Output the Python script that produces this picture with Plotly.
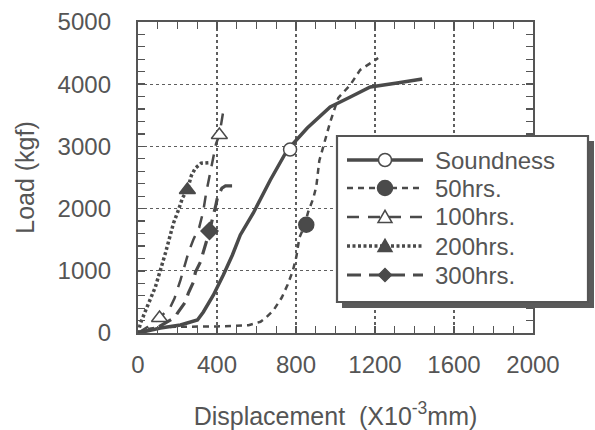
import plotly.graph_objects as go

# ---------------- data ----------------
sound_x = [0, 114, 215, 301, 331, 382, 432, 478, 518, 584, 670, 756, 857, 973, 1075, 1176, 1312, 1439]
sound_y = [0, 80, 129, 209, 338, 611, 933, 1254, 1576, 1930, 2460, 2943, 3296, 3634, 3795, 3956, 4020, 4084]
sound_mx = [770]
sound_my = [2950]

h50_x = [0, 40, 100, 200, 400, 560, 620, 645, 685, 728, 758, 784, 802, 817, 840, 862, 888, 903, 918, 943, 973, 1014, 1075, 1125, 1216]
h50_y = [0, 60, 90, 100, 105, 125, 180, 240, 360, 570, 780, 1000, 1230, 1530, 1700, 1950, 2170, 2360, 2770, 3070, 3390, 3780, 3990, 4230, 4420]
h50_mx = [852]
h50_my = [1740]

h100_x = [0, 50, 109, 164, 185, 215, 255, 280, 310, 330, 345, 367, 395, 412, 437]
h100_y = [0, 100, 241, 418, 560, 850, 1290, 1500, 1700, 1950, 2250, 2590, 3040, 3184, 3666]
h100_mx = [109, 412]
h100_my = [241, 3184]

h200_x = [0, 13, 50, 88, 139, 180, 205, 225, 250, 270, 290, 320, 367]
h200_y = [0, 161, 450, 740, 1286, 1769, 1978, 2171, 2300, 2530, 2650, 2730, 2740]
h200_mx = [250]
h200_my = [2300]

h300_x = [0, 100, 190, 200, 240, 255, 281, 291, 316, 326, 362, 392, 403, 425, 443, 478]
h300_y = [0, 90, 257, 322, 498, 643, 820, 981, 1142, 1254, 1640, 2026, 2187, 2330, 2364, 2364]
h300_mx = [362]
h300_my = [1640]

series_names = ["Soundness", "50hrs.", "100hrs.", "200hrs.", "300hrs."]
x_ticks = [0, 400, 800, 1200, 1600, 2000]
y_ticks = [0, 1000, 2000, 3000, 4000, 5000]
x_minor_step = 100
y_minor_step = 200

# ---------------- styles ----------------
LC = "#4a4a4a"
TC = "#555555"
FONT = "Liberation Sans, Arial, Helvetica, sans-serif"

styles = [
    dict(dash="solid", width=3.5, symbol="circle", size=13, fill="white"),
    dict(dash="6px,5px", width=2.5, symbol="circle", size=15, fill=LC),
    dict(dash="12px,9px", width=2.5, symbol="triangle-up", size=14, fill="white"),
    dict(dash="3px,2.5px", width=3.5, symbol="triangle-up", size=14, fill=LC),
    dict(dash="14px,8px", width=3.2, symbol="diamond", size=13, fill=LC),
]
lines = [(sound_x, sound_y), (h50_x, h50_y), (h100_x, h100_y), (h200_x, h200_y), (h300_x, h300_y)]
marks = [(sound_mx, sound_my), (h50_mx, h50_my), (h100_mx, h100_my), (h200_mx, h200_my), (h300_mx, h300_my)]

fig = go.Figure()
for name, (lx, ly), (mx, my), st in zip(series_names, lines, marks, styles):
    fig.add_trace(go.Scatter(x=lx, y=ly, mode="lines", name=name, showlegend=False,
                             line=dict(color=LC, width=st["width"], dash=st["dash"])))
    fig.add_trace(go.Scatter(x=mx, y=my, mode="markers", name=name, showlegend=False,
                             marker=dict(symbol=st["symbol"], size=st["size"], color=st["fill"],
                                         line=dict(color=LC, width=1.5))))

# ---------------- layout ----------------
L, R, T, B = 138, 533, 22, 333   # plot area in window pixels
W, H = R - L, B - T
fx = lambda px: (px - L) / W
fy = lambda py: (B - py) / H

axis_common = dict(
    showline=True, linecolor=TC, linewidth=2.2, mirror="ticks", automargin=False,
    ticks="inside", ticklen=7, tickwidth=1.5, tickcolor=TC, tickmode="linear",
    showgrid=True, gridcolor="#5f5f5f", gridwidth=1.3, griddash="dot",
    zeroline=False, tickfont=dict(family=FONT, size=24, color=TC),
)
fig.update_xaxes(range=[x_ticks[0], x_ticks[-1]], tick0=x_ticks[0], dtick=x_ticks[1] - x_ticks[0],
                 minor=dict(dtick=x_minor_step, tick0=0, ticks="inside", ticklen=7, tickwidth=1.2, tickcolor=TC, showgrid=False),
                 title=dict(text="Displacement\u00a0 (X10<sup>-3</sup>mm)", font=dict(family=FONT, size=25, color=TC), standoff=33),
                 ticklabelstandoff=9, **axis_common)
fig.update_yaxes(range=[y_ticks[0], y_ticks[-1]], tick0=y_ticks[0], dtick=y_ticks[1] - y_ticks[0],
                 minor=dict(dtick=y_minor_step, tick0=0, ticks="inside", ticklen=7, tickwidth=1.2, tickcolor=TC, showgrid=False),
                 title=dict(text="Load (kgf)", font=dict(family=FONT, size=25, color=TC), standoff=16),
                 ticklabelstandoff=20, **axis_common)

# ---------------- hand-drawn legend box ----------------
shapes = []
annotations = []
shapes.append(dict(type="rect", xref="paper", yref="paper", x0=fx(342), x1=fx(594), y0=fy(308), y1=fy(141),
                   fillcolor="#5a5a5a", line=dict(width=0), layer="above"))
shapes.append(dict(type="rect", xref="paper", yref="paper", x0=fx(337), x1=fx(588), y0=fy(302), y1=fy(136),
                   fillcolor="white", line=dict(color=TC, width=2.2), layer="above"))
rows_y = [160, 188, 217, 246, 275]
sx0, sx1, mxp = 347, 423, 385
for name, st, ry in zip(series_names, styles, rows_y):
    shapes.append(dict(type="line", xref="paper", yref="paper", x0=fx(sx0), x1=fx(sx1), y0=fy(ry), y1=fy(ry),
                       line=dict(color=LC, width=st["width"], dash=st["dash"]), layer="above"))
    r = st["size"] / 2
    if st["symbol"] == "circle":
        shapes.append(dict(type="circle", xref="paper", yref="paper", x0=fx(mxp - r), x1=fx(mxp + r),
                           y0=fy(ry + r), y1=fy(ry - r), fillcolor=st["fill"],
                           line=dict(color=LC, width=1.5), layer="above"))
    elif st["symbol"] == "triangle-up":
        p = "M {},{} L {},{} L {},{} Z".format(fx(mxp - r), fy(ry + r * 0.8), fx(mxp + r), fy(ry + r * 0.8),
                                               fx(mxp), fy(ry - r * 0.95))
        shapes.append(dict(type="path", xref="paper", yref="paper", path=p, fillcolor=st["fill"],
                           line=dict(color=LC, width=1.5), layer="above"))
    else:
        p = "M {},{} L {},{} L {},{} L {},{} Z".format(fx(mxp - r), fy(ry), fx(mxp), fy(ry - r),
                                                       fx(mxp + r), fy(ry), fx(mxp), fy(ry + r))
        shapes.append(dict(type="path", xref="paper", yref="paper", path=p, fillcolor=st["fill"],
                           line=dict(color=LC, width=1.5), layer="above"))
    annotations.append(dict(xref="paper", yref="paper", x=fx(433), y=fy(ry), xanchor="left", yanchor="middle",
                            text=name, showarrow=False, font=dict(family=FONT, size=24, color=TC)))

FIG_W, FIG_H = 595, 430
fig.update_layout(
    width=FIG_W, height=FIG_H,
    margin=dict(l=L, r=FIG_W - R, t=T, b=FIG_H - B, pad=0, autoexpand=False),
    paper_bgcolor="white", plot_bgcolor="white",
    showlegend=False,
    shapes=shapes, annotations=annotations,
    font=dict(family=FONT, color=TC),
)

# remove the browser's default page margin so the figure sits at the window origin
fig.write_html("out.html", config={"displayModeBar": False, "staticPlot": True},
               post_script="document.body.style.margin='0px';document.body.style.overflow='hidden';")
